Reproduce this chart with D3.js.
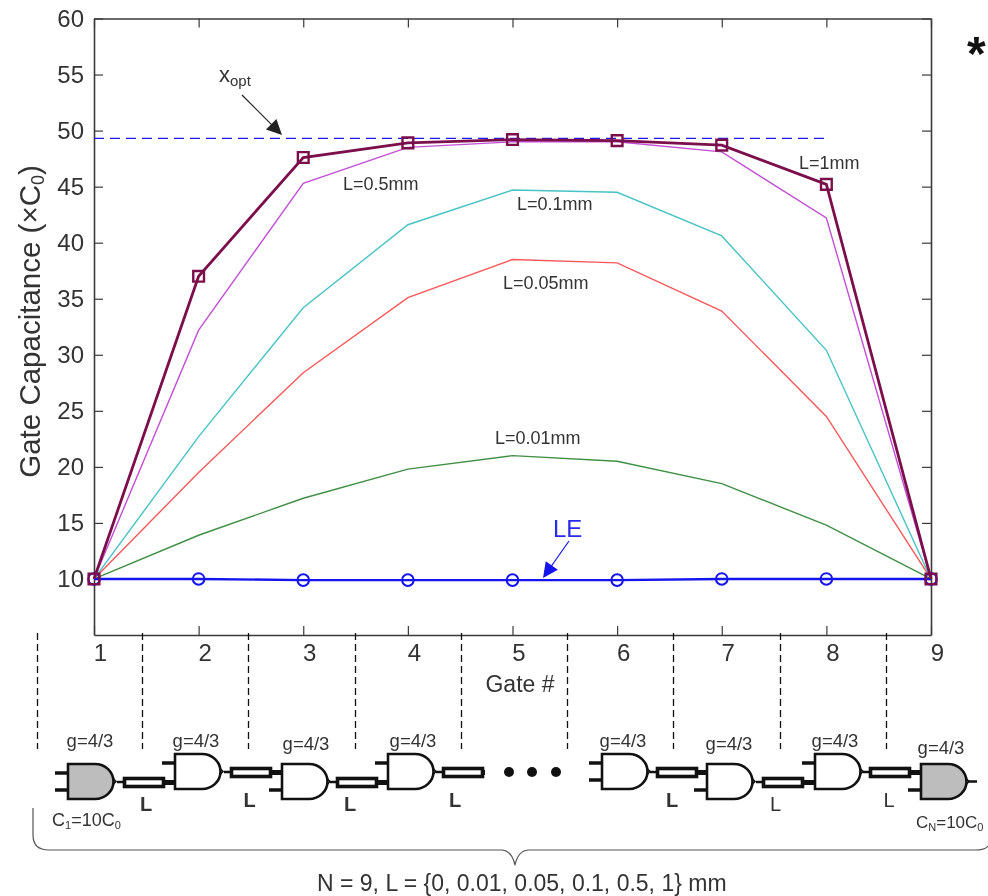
<!DOCTYPE html>
<html>
<head>
<meta charset="utf-8">
<script src="https://cdn.jsdelivr.net/npm/d3@7"></script>
<style>
  html, body { margin: 0; padding: 0; background: #fff; }
  svg { display: block; filter: blur(0.45px); }
  text { font-family: "Liberation Sans", Arial, sans-serif; fill: #333; }
</style>
</head>
<body>
<svg id="chart" width="988" height="896"></svg>
<script>
const gates = [1, 2, 3, 4, 5, 6, 7, 8, 9];
const yTicks = [10, 15, 20, 25, 30, 35, 40, 45, 50, 55, 60];

const wire1mm = [10, 37, 47.6, 48.9, 49.2, 49.1, 48.7, 45.2, 10];
const wire05mm = [10, 32.2, 45.3, 48.5, 49, 49, 48.1, 42.2, 10];
const wire01mm = [10, 22.7, 34.2, 41.6, 44.7, 44.5, 40.6, 30.4, 10];
const wire005mm = [10, 19.5, 28.4, 35.1, 38.5, 38.2, 33.9, 24.5, 10];
const wire001mm = [10, 13.9, 17.2, 19.8, 21, 20.5, 18.5, 14.8, 10];
const logicalEffort = [10, 10, 9.9, 9.9, 9.9, 9.9, 10, 10, 10];
const xOpt = 49.3;

const svg = d3.select('#chart');
const x = d3.scaleLinear().domain([1, 9]).range([94, 931]);
const y = d3.scaleLinear().domain([5, 60]).range([635, 18.5]);

const axisColor = '#3a3a3a';
const line = d3.line().x((d, i) => x(gates[i])).y((d) => y(d));

// frame and ticks
function styleAxis(g) {
  g.selectAll('path').attr('stroke', axisColor).attr('stroke-width', 1.6);
  g.selectAll('line').attr('stroke', axisColor).attr('stroke-width', 1.2);
  g.selectAll('text').attr('font-size', 24).attr('fill', '#333');
}

svg.append('g').attr('transform', 'translate(0,635)')
  .call(d3.axisBottom(x).tickValues(gates).tickFormat(d3.format('d')).tickSizeInner(-9).tickSizeOuter(0))
  .call(styleAxis)
  .call((g) => g.selectAll('text').attr('x', 6).attr('y', 9));

svg.append('g').attr('transform', 'translate(0,18.5)')
  .call(d3.axisTop(x).tickValues(gates).tickFormat('').tickSizeInner(-9).tickSizeOuter(0))
  .call(styleAxis);

svg.append('g').attr('transform', 'translate(94,0)')
  .call(d3.axisLeft(y).tickValues(yTicks).tickSizeInner(-9).tickSizeOuter(0))
  .call(styleAxis)
  .call((g) => g.selectAll('text').attr('x', -10));

svg.append('g').attr('transform', 'translate(931,0)')
  .call(d3.axisRight(y).tickValues(yTicks).tickFormat('').tickSizeInner(-9).tickSizeOuter(0))
  .call(styleAxis);

// series
svg.append('line')
  .attr('x1', x(1)).attr('x2', x(8))
  .attr('y1', y(xOpt)).attr('y2', y(xOpt))
  .attr('stroke', '#1a1aee').attr('stroke-width', 1.3).attr('stroke-dasharray', '10 6');

[[wire001mm, '#3f8f45'], [wire005mm, '#f8585a'], [wire01mm, '#48c2c4'], [wire05mm, '#c24fd4']].forEach(([vals, color]) => {
  svg.append('path').attr('d', line(vals))
    .attr('fill', 'none').attr('stroke', color).attr('stroke-width', 1.4);
});

svg.append('path').attr('d', line(logicalEffort))
  .attr('fill', 'none').attr('stroke', '#1414ee').attr('stroke-width', 2.4);
svg.selectAll('.le').data(logicalEffort).join('circle')
  .attr('cx', (d, i) => x(gates[i])).attr('cy', (d) => y(d)).attr('r', 5.8)
  .attr('fill', 'none').attr('stroke', '#1414ee').attr('stroke-width', 2);

svg.append('path').attr('d', line(wire1mm))
  .attr('fill', 'none').attr('stroke', '#7b0f4b').attr('stroke-width', 2.8);
svg.selectAll('.sq').data(wire1mm).join('path')
  .attr('d', d3.symbol(d3.symbolSquare, 115))
  .attr('transform', (d, i) => `translate(${x(gates[i])},${y(d)})`)
  .attr('fill', 'none').attr('stroke', '#7b0f4b').attr('stroke-width', 2.4);

// series labels
const seriesLabels = [
  ['L=0.5mm', 343, 190], ['L=1mm', 799, 169], ['L=0.1mm', 517, 210],
  ['L=0.05mm', 503, 289], ['L=0.01mm', 495, 444]
];
seriesLabels.forEach(([t, tx, ty]) => {
  svg.append('text').attr('x', tx).attr('y', ty).attr('font-size', 18).text(t);
});

// axis titles
svg.append('text')
  .attr('transform', 'translate(40,321.5) rotate(-90)')
  .attr('text-anchor', 'middle').attr('font-size', 29.5)
  .html('Gate Capacitance (×C<tspan font-size="18" dy="4">0</tspan><tspan dy="-4">)</tspan>');
svg.append('text').attr('x', 520).attr('y', 692).attr('text-anchor', 'middle')
  .attr('font-size', 23).text('Gate #');

svg.append('text').attr('x', 967).attr('y', 70).attr('font-size', 48)
  .attr('font-weight', 'bold').style('fill', '#111').text('*');

// arrows
function arrow(x1, y1, x2, y2, color, lw, head) {
  const a = Math.atan2(y2 - y1, x2 - x1);
  svg.append('line').attr('x1', x1).attr('y1', y1)
    .attr('x2', x2 - Math.cos(a) * head * 0.7).attr('y2', y2 - Math.sin(a) * head * 0.7)
    .attr('stroke', color).attr('stroke-width', lw);
  const p = d3.path();
  p.moveTo(x2, y2);
  p.lineTo(x2 - head * Math.cos(a - 0.45), y2 - head * Math.sin(a - 0.45));
  p.lineTo(x2 - head * Math.cos(a + 0.45), y2 - head * Math.sin(a + 0.45));
  p.closePath();
  svg.append('path').attr('d', p.toString()).attr('fill', color);
}

arrow(242, 95, 282, 135, '#222', 1.2, 17);
arrow(569, 541, 543, 578, '#1414ee', 1.2, 17);

svg.append('text').attr('x', 219).attr('y', 82).attr('font-size', 22)
  .html('x<tspan font-size="15" dy="4">opt</tspan>');
svg.append('text').attr('x', 553).attr('y', 537).attr('font-size', 24)
  .style('fill', '#2a2aee').text('LE');

// vertical dashed separators
[37, 142, 248, 355, 461, 567, 673, 780, 886].forEach((dx) => {
  svg.append('line').attr('x1', dx + 0.5).attr('x2', dx + 0.5).attr('y1', 633).attr('y2', 749)
    .attr('stroke', '#111').attr('stroke-width', 1.3).attr('stroke-dasharray', '7 4');
});

// gate schematic: [left, top, filled, top stub, bottom stub]
const schematic = [
  [68, 764, true, true, true],
  [175, 754, false, true, false],
  [282, 764, false, false, true],
  [388, 754, false, true, false],
  [602, 754, false, true, true],
  [707, 764, false, false, true],
  [815, 754, false, true, false],
  [921, 764, true, false, true]
];
const wireSegments = [
  [123, 777], [230, 767], [336, 777], [442, 767],
  [656, 767], [762, 777], [869, 767]
];
const ink = '#111';

schematic.forEach(([gx, gy, filled, topStub, botStub]) => {
  const h = 35, w = 27, r = h / 2;
  const g = svg.append('g').attr('transform', `translate(${gx},${gy})`);
  if (topStub) g.append('line').attr('x1', -13).attr('x2', 0).attr('y1', 9).attr('y2', 9).attr('stroke', ink).attr('stroke-width', 3.5);
  if (botStub) g.append('line').attr('x1', -13).attr('x2', 0).attr('y1', 26).attr('y2', 26).attr('stroke', ink).attr('stroke-width', 3.5);
  g.append('path')
    .attr('d', `M0,0H${w}A${r + 1},${r} 0 0 1 ${w},${h}H0Z`)
    .attr('fill', filled ? '#bdbdbd' : '#fff').attr('stroke', ink).attr('stroke-width', 2.6);
  g.append('path').attr('d', `M${w + 18},${r - 3}L${w + 21},${r}L${w + 18},${r + 3}`)
    .attr('fill', 'none').attr('stroke', ink).attr('stroke-width', 1.6);
});

wireSegments.forEach(([wx, wy]) => {
  svg.append('line').attr('x1', wx - 6).attr('x2', wx).attr('y1', wy + 5).attr('y2', wy + 5).attr('stroke', ink).attr('stroke-width', 2.5);
  svg.append('line').attr('x1', wx + 41).attr('x2', wx + 52).attr('y1', wy + 5.5).attr('y2', wy + 5.5).attr('stroke', ink).attr('stroke-width', 5);
  svg.append('rect').attr('x', wx + 1.5).attr('y', wy + 1.5).attr('width', 39).attr('height', 8)
    .attr('fill', '#fff').attr('stroke', ink).attr('stroke-width', 3.6);
});
// the wire before the dots stops short of the next gate
svg.append('rect').attr('x', 485).attr('y', 767).attr('width', 10).attr('height', 11).attr('fill', '#fff');
svg.append('line').attr('x1', 968).attr('x2', 977).attr('y1', 781.5).attr('y2', 781.5).attr('stroke', ink).attr('stroke-width', 2.5);

// three dots
[509, 532, 556].forEach((cx) => {
  svg.append('circle').attr('cx', cx).attr('cy', 772).attr('r', 5).attr('fill', '#111');
});

// schematic labels
const gLabels = [[90, 747], [196, 747], [306, 750], [413, 747], [623, 747], [729, 750], [835, 747], [941, 754]];
gLabels.forEach(([tx, ty]) => {
  svg.append('text').attr('x', tx).attr('y', ty).attr('text-anchor', 'middle')
    .attr('font-size', 18.5).text('g=4/3');
});
const lLabels = [[146, 811, 'bold'], [249.5, 807, 'bold'], [350, 811, 'bold'], [455, 807, 'bold'], [672, 807, 'bold'], [775.5, 811, 'normal'], [889, 807, 'normal']];
lLabels.forEach(([tx, ty, weight]) => {
  svg.append('text').attr('x', tx).attr('y', ty).attr('text-anchor', 'middle')
    .attr('font-size', 20).attr('font-weight', weight).text('L');
});
svg.append('text').attr('x', 52).attr('y', 826).attr('font-size', 18)
  .html('C<tspan font-size="11" dy="3">1</tspan><tspan dy="-3">=10C</tspan><tspan font-size="11" dy="3">0</tspan>');
svg.append('text').attr('x', 916).attr('y', 828).attr('font-size', 17)
  .html('C<tspan font-size="11" dy="3">N</tspan><tspan dy="-3">=10C</tspan><tspan font-size="11" dy="3">0</tspan>');

// brace
svg.append('path')
  .attr('d', 'M33,808V835Q33,850 49,850H502Q512,851 515,865Q518,851 528,850H975Q985,850 988,846')
  .attr('fill', 'none').attr('stroke', '#555').attr('stroke-width', 1.2);

svg.append('text').attr('x', 317).attr('y', 891).attr('font-size', 23)
  .text('N = 9, L = {0, 0.01, 0.05, 0.1, 0.5, 1} mm');
</script>
</body>
</html>
